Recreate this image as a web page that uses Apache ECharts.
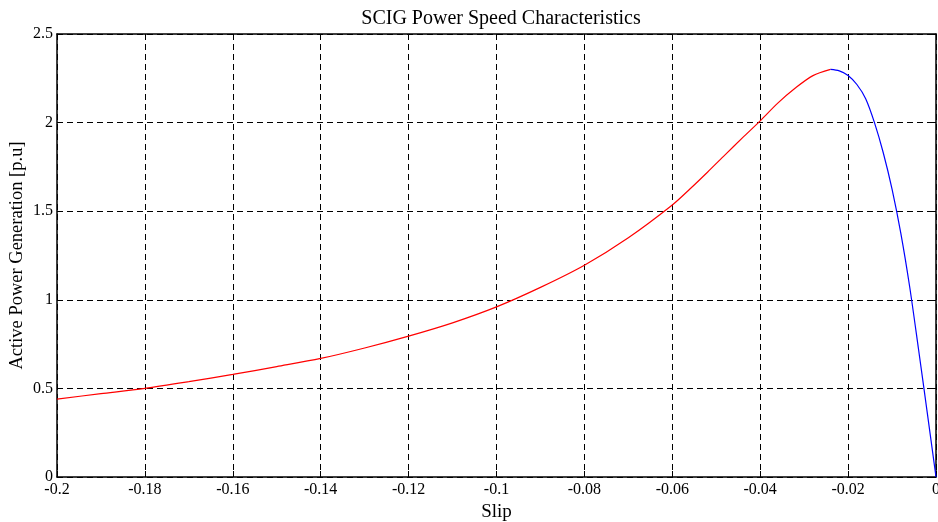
<!DOCTYPE html>
<html>
<head>
<meta charset="utf-8">
<script src="https://cdn.jsdelivr.net/npm/echarts@6/dist/echarts.min.js"></script>
<style>html,body{margin:0;padding:0;background:#fff;}#c{width:938px;height:522px;}</style>
</head>
<body>
<div id="c"></div>
<script>
const titleText = 'SCIG Power Speed Characteristics';
const xName = 'Slip';
const yName = 'Active Power Generation [p.u]';

const redSlip = [-0.2,-0.19,-0.18,-0.17,-0.16,-0.15,-0.14,-0.13,-0.12,-0.11,-0.10,-0.09,-0.08,-0.07,-0.06,-0.056,-0.052,-0.048,-0.044,-0.040,-0.036,-0.032,-0.028,-0.024];
const redPower = [0.44,0.47,0.50,0.538,0.579,0.623,0.669,0.728,0.795,0.87,0.96,1.07,1.195,1.35,1.535,1.625,1.72,1.818,1.915,2.01,2.11,2.195,2.265,2.30];

const blueSlip = [-0.024,-0.022,-0.020,-0.018,-0.016,-0.014,-0.012,-0.010,-0.008,-0.006,-0.004,-0.002,0];
const bluePower = [2.30,2.292,2.266,2.215,2.135,2.00,1.83,1.625,1.375,1.075,0.725,0.365,0];

const zip = (a,b) => a.map((v,i)=>[v,b[i]]);
const font = 'Liberation Serif, Times New Roman, serif';

const chart = echarts.init(document.getElementById('c'));
const splitDash = {show:true, lineStyle:{color:'#000', width:1, type:[6,4]}};
const axisLine = {show:true, onZero:false, lineStyle:{color:'#000', width:1.5}};
chart.setOption({
  animation:false,
  backgroundColor:'#fff',
  title:{text:titleText, left:496, textAlign:'center', top:4, textStyle:{fontFamily:font, fontSize:20, fontWeight:'normal', color:'#000'}},
  grid:{left:57, right:2, top:34, bottom:45, containLabel:false, outerBoundsMode:'none'},
  xAxis:[{
    type:'value', min:-0.2, max:0, interval:0.02,
    name:xName, nameLocation:'middle', nameGap:25,
    nameTextStyle:{fontFamily:font, fontSize:19, color:'#000'},
    axisLine:axisLine,
    axisTick:{show:true, inside:true, length:6, lineStyle:{color:'#000'}},
    axisLabel:{fontFamily:font, fontSize:16, color:'#000', margin:5, formatter:v=>String(+v.toFixed(2))},
    splitLine:splitDash
  },{
    type:'value', position:'top', min:-0.2, max:0, interval:0.02,
    axisLine:axisLine, axisTick:{show:true, inside:true, length:6, lineStyle:{color:'#000'}},
    axisLabel:{show:false}, splitLine:{show:false}
  }],
  yAxis:[{
    type:'value', min:0, max:2.5, interval:0.5,
    name:yName, nameLocation:'middle', nameGap:30, nameMoveOverlap:false,
    nameTextStyle:{fontFamily:font, fontSize:18.5, color:'#000'},
    axisLine:axisLine,
    axisTick:{show:true, inside:true, length:6, lineStyle:{color:'#000'}},
    axisLabel:{fontFamily:font, fontSize:16, color:'#000', margin:4, formatter:v=>String(+v.toFixed(1))},
    splitLine:splitDash
  },{
    type:'value', position:'right', min:0, max:2.5, interval:0.5,
    axisLine:axisLine, axisTick:{show:true, inside:true, length:6, lineStyle:{color:'#000'}},
    axisLabel:{show:false}, splitLine:{show:false}
  }],
  series:[
    {type:'line', data:zip(redSlip, redPower), smooth:0.3, showSymbol:false, lineStyle:{color:'#ff0000', width:1.2}, z:3},
    {type:'line', data:zip(blueSlip, bluePower), smooth:0.3, showSymbol:false, lineStyle:{color:'#0000ff', width:1.2}, z:3}
  ]
});
</script>
</body>
</html>
